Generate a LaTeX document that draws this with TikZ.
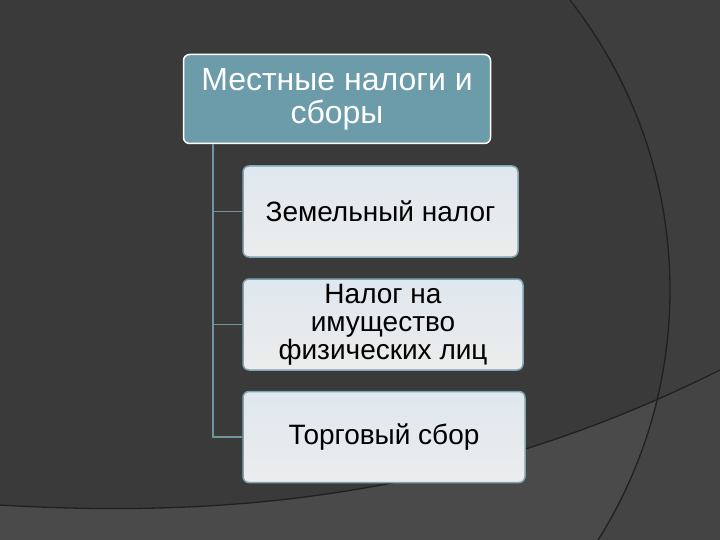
\documentclass[tikz,border=0pt]{standalone}
\usepackage{fontspec}
\setmainfont{Liberation Sans}

\definecolor{bgdark}{HTML}{3A3A3A}
\definecolor{bglight}{HTML}{4A4A4A}
\definecolor{bgright}{HTML}{3E3E3E}
\definecolor{bgrightlow}{HTML}{444444}
\definecolor{arcline}{HTML}{202020}
\definecolor{rootfill}{HTML}{6C9CA9}
\definecolor{itemedge}{HTML}{7FA3AF}
\definecolor{itemtop}{HTML}{DFE8EF}
\definecolor{itembottom}{HTML}{ECECEC}
\definecolor{linkline}{HTML}{6F959F}

\begin{document}
\begin{tikzpicture}[x = 1pt, y = -1pt,
    rootbox/.style = {draw = white, line width = 1.5pt, fill = rootfill, rounded corners = 6pt,
        text = white, align = center, minimum width = 307pt, minimum height = 89pt, inner sep = 0pt,
        font = \fontsize{32}{33}\selectfont},
    itembox/.style = {draw = itemedge, line width = 1.5pt, top color = itemtop, bottom color = itembottom,
        rounded corners = 6pt, align = center, minimum height = 91pt, inner sep = 0pt,
        font = \fontsize{28}{28}\selectfont},
    link/.style = {draw = linkline, line width = 1.5pt},
    bgcurve/.style = {draw = arcline, line width = 1.3pt}]
        \useasboundingbox (0,0) rectangle (720,540);
        \fill[bgdark] (0,0) rectangle (720,540);

        \begin{scope}
            \clip (0,0) rectangle (720,540);
            \fill[bglight] (0,505) .. controls (250,520) and (480,490) .. (720,370) -- (720,540) -- (0,540) -- cycle;
            \begin{scope}
                \clip (0,0) -- (0,505) .. controls (250,520) and (480,490) .. (720,370) -- (720,0) -- cycle;
                \fill[bgright, even odd rule] (0,0) rectangle (720,540) (200,290) circle [radius = 470];
            \end{scope}
            \begin{scope}
                \clip (0,505) .. controls (250,520) and (480,490) .. (720,370) -- (720,540) -- (0,540) -- cycle;
                \fill[bgrightlow, even odd rule] (0,0) rectangle (720,540) (200,290) circle [radius = 470];
            \end{scope}
            \draw[bgcurve] (200,290) circle [radius = 470];
            \draw[bgcurve] (0,505) .. controls (250,520) and (480,490) .. (720,370);
        \end{scope}

        \node[rootbox] (root) at (337,99) {Местные налоги и\\сборы};

        \node[itembox, minimum width = 275pt] (zem) at (380.5,211.5) {Земельный налог};
        \node[itembox, minimum width = 280pt] (imush) at (383,324.5) {Налог на\\имущество\\физических лиц};
        \node[itembox, minimum width = 282pt] (torg) at (384,437) {Торговый сбор};

        \coordinate (trunk) at ([xshift = 30pt]root.south west);
        \draw[link] (trunk) |- (zem.west);
        \draw[link] (trunk) |- (imush.west);
        \draw[link] (trunk) |- (torg.west);
    \end{tikzpicture}
\end{document}
